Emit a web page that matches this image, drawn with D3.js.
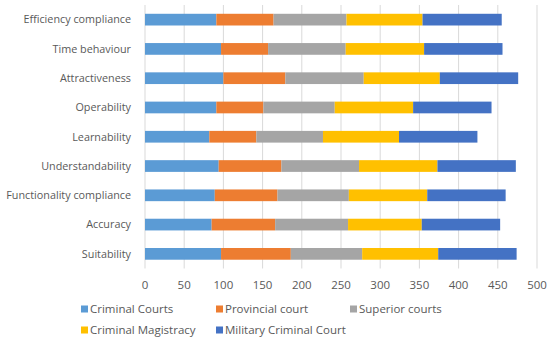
<!DOCTYPE html>
<html>
<head>
<meta charset="utf-8">
<script src="https://cdn.jsdelivr.net/npm/d3@7"></script>
<style>
  body { margin: 0; background: #fff; }
  text { font-family: "Open Sans", "Noto Sans", sans-serif; fill: #595959; }
</style>
</head>
<body>
<script>
// Chart data
const categories = ["Efficiency compliance", "Time behaviour", "Attractiveness", "Operability",
  "Learnability", "Understandability", "Functionality compliance", "Accuracy", "Suitability"];
const seriesNames = ["Criminal Courts", "Provincial court", "Superior courts", "Criminal Magistracy", "Military Criminal Court"];
const criminalCourts     = [91, 97, 100, 91, 82, 94, 89, 85, 97];
const provincialCourt    = [73, 60, 79, 60, 60, 80, 80, 81, 89];
const superiorCourts     = [93, 99, 100, 91, 85, 99, 91, 93, 91];
const criminalMagistracy = [97, 100, 97, 100, 97, 100, 100, 94, 97];
const militaryCourt      = [101, 100, 100, 100, 100, 100, 100, 100, 100];
const xTicks = [0, 50, 100, 150, 200, 250, 300, 350, 400, 450, 500];
const colors = ["#5B9BD5", "#ED7D31", "#A5A5A5", "#FFC000", "#4472C4"];

const W = 550, H = 340;
const margin = { top: 5, right: 13, bottom: 72, left: 145 };
const plotBottom = 268.5;

const svg = d3.select("body").append("svg")
  .attr("width", W).attr("height", H);

// build rows for the stack
const seriesValues = [criminalCourts, provincialCourt, superiorCourts, criminalMagistracy, militaryCourt];
const rows = categories.map((c, i) => {
  const r = { category: c };
  seriesNames.forEach((s, j) => r[s] = seriesValues[j][i]);
  return r;
});
const stacked = d3.stack().keys(seriesNames)(rows);

const x = d3.scaleLinear().domain([0, 500]).range([margin.left, W - margin.right]);
const y = d3.scaleBand().domain(categories)
  .range([margin.top, plotBottom])
  .paddingInner(0.6).paddingOuter(0.3);

// gridlines
svg.append("g").selectAll("line")
  .data(xTicks.slice(1))
  .join("line")
  .attr("x1", d => x(d)).attr("x2", d => x(d))
  .attr("y1", margin.top).attr("y2", plotBottom)
  .attr("stroke", "#d9d9d9").attr("stroke-width", 1);

// vertical axis line
svg.append("line")
  .attr("x1", x(0)).attr("x2", x(0))
  .attr("y1", margin.top).attr("y2", plotBottom)
  .attr("stroke", "#d9d9d9");

// bars
svg.append("g").selectAll("g")
  .data(stacked)
  .join("g")
  .attr("fill", (d, i) => colors[i])
  .selectAll("rect")
  .data(d => d)
  .join("rect")
  .attr("x", d => x(d[0]))
  .attr("y", d => y(d.data.category))
  .attr("width", d => x(d[1]) - x(d[0]))
  .attr("height", y.bandwidth());

// category labels
svg.append("g").selectAll("text")
  .data(categories)
  .join("text")
  .attr("x", margin.left - 14)
  .attr("y", d => y(d) + y.bandwidth() / 2)
  .attr("dy", "0.35em")
  .attr("text-anchor", "end")
  .style("font-size", "10.8px")
  .text(d => d);

// x tick labels
svg.append("g").selectAll("text")
  .data(xTicks)
  .join("text")
  .attr("x", d => x(d))
  .attr("y", 285)
  .attr("dy", "0.35em")
  .attr("text-anchor", "middle")
  .style("font-size", "11.5px")
  .text(d => d);

// legend
const legendPos = [[81, 309], [216, 309], [350, 309], [81, 330], [216, 330]];
const legend = svg.append("g").selectAll("g")
  .data(seriesNames)
  .join("g")
  .attr("transform", (d, i) => `translate(${legendPos[i][0]},${legendPos[i][1]})`);
legend.append("rect")
  .attr("x", 0).attr("y", -3.5)
  .attr("width", 7).attr("height", 7)
  .attr("fill", (d, i) => colors[i]);
legend.append("text")
  .attr("x", 9).attr("y", 0)
  .attr("dy", "0.35em")
  .style("font-size", "11.5px")
  .text(d => d);
</script>
</body>
</html>
